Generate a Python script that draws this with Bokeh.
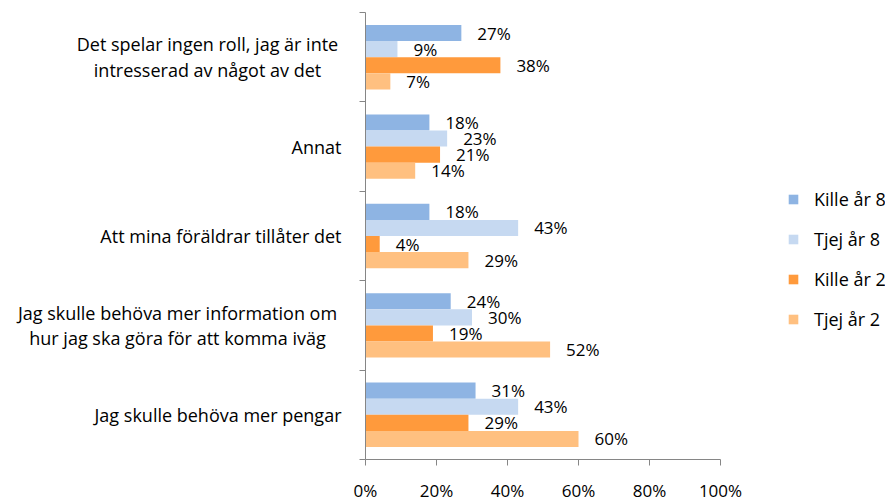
from bokeh.plotting import figure
from bokeh.layouts import row
from bokeh.models import (ColumnDataSource, Range1d, FixedTicker, PrintfTickFormatter,
                          Legend, LegendItem)
from bokeh.core.properties import value
from bokeh.embed import file_html
from bokeh.resources import INLINE

categories = [
    "Det spelar ingen roll, jag är inte\nintresserad av något av det",
    "Annat",
    "Att mina föräldrar tillåter det",
    "Jag skulle behöva mer information om\nhur jag ska göra för att komma iväg",
    "Jag skulle behöva mer pengar",
]
series_names = ["Kille år 8", "Tjej år 8", "Kille år 2", "Tjej år 2"]
kille_ar8 = [27, 18, 18, 24, 31]
tjej_ar8 = [9, 23, 43, 30, 43]
kille_ar2 = [38, 21, 4, 19, 29]
tjej_ar2 = [7, 14, 29, 52, 60]
x_ticks = [0, 20, 40, 60, 80, 100]

series_values = [kille_ar8, tjej_ar8, kille_ar2, tjej_ar2]
colors = ["#8EB4E3", "#C6D9F1", "#FF9A3C", "#FFC080"]

FONT = "Open Sans"
FS = "17px"
FS_CAT = "18px"
n = len(categories)
bar_h = 0.18
H = 504
TOP, BOTTOM = 12, 44

y_range = Range1d(0, n)
centers = [n - 0.5 - i for i in range(n)]


def bare(fig):
    fig.outline_line_color = None
    fig.xgrid.visible = False
    fig.ygrid.visible = False


# ---- left: category labels ----
LW = 353
p_left = figure(width=LW, height=H, x_range=Range1d(0, LW), y_range=y_range,
                output_backend="svg", toolbar_location=None, x_axis_type=None, y_axis_type=None,
                min_border_left=0, min_border_right=0, min_border_top=TOP, min_border_bottom=BOTTOM)
bare(p_left)
label_x = [207, 341, 341, 177, 341]          # anchor (px) of each label
label_align = ["center", "right", "right", "center", "right"]
lsrc = ColumnDataSource(dict(x=label_x, y=centers, t=categories, a=label_align))
p_left.text(x="x", y="y", text="t", source=lsrc, text_align="a",
            text_baseline="middle", text_line_height=1.06,
            text_font=value(FONT), text_font_size=FS_CAT, text_color="#000000")

# ---- main chart ----
p = figure(width=12 + 355 + 30, height=H, x_range=Range1d(0, 100), y_range=y_range,
           output_backend="svg", toolbar_location=None,
           min_border_left=12, min_border_right=30, min_border_top=TOP, min_border_bottom=BOTTOM)
bare(p)

sources = []
for j, (name, vals, col) in enumerate(zip(series_names, series_values, colors)):
    ys = [c + (1.5 - j) * bar_h for c in centers]
    src = ColumnDataSource(dict(y=ys, v=vals, lbl=[f"{v}%" for v in vals]))
    sources.append(src)
    p.hbar(y="y", left=0, right="v", height=bar_h, source=src,
           fill_color=col, line_color=None)
    p.text(x="v", y="y", text="lbl", source=src, x_offset=16,
           text_align="left", text_baseline="middle",
           text_font=value(FONT), text_font_size=FS, text_color="#000000")

axis_col = "#868686"
xa = p.xaxis[0]
xa.ticker = FixedTicker(ticks=x_ticks)
xa.formatter = PrintfTickFormatter(format="%d%%")
xa.axis_line_color = axis_col
xa.major_tick_line_color = axis_col
xa.major_tick_out = 6
xa.major_tick_in = 0
xa.minor_tick_line_color = None
xa.major_label_standoff = 13
xa.major_label_text_line_height = 0.8
xa.major_label_text_font = FONT
xa.major_label_text_font_size = FS
xa.major_label_text_color = "#000000"

ya = p.yaxis[0]
ya.ticker = FixedTicker(ticks=list(range(n + 1)))
ya.major_label_overrides = {i: "" for i in range(n + 1)}
ya.major_label_standoff = 0
ya.axis_line_color = axis_col
ya.major_tick_line_color = axis_col
ya.major_tick_out = 6
ya.major_tick_in = 0
ya.minor_tick_line_color = None

# ---- right: legend (bars share the series sources, drawn outside this panel's view) ----
RW = 885 - LW - (12 + 355 + 30)
p_leg = figure(width=RW, height=H, x_range=Range1d(-1000, -1000 + RW), y_range=Range1d(0, H),
               output_backend="svg", toolbar_location=None, x_axis_type=None, y_axis_type=None,
               min_border_left=0, min_border_right=0, min_border_top=0, min_border_bottom=0)
bare(p_leg)
items = []
for name, col, src in zip(series_names, colors, sources):
    r = p_leg.hbar(y="y", left=0, right="v", height=1, source=src,
                   fill_color=col, line_color=None)
    items.append(LegendItem(label=name, renderers=[r]))
legend = Legend(items=items, location=(37, 128), border_line_color=None,
                background_fill_alpha=0, glyph_width=12, glyph_height=12,
                label_standoff=15, spacing=16, padding=0, margin=0, label_height=20,
                label_text_font=FONT, label_text_font_size=FS_CAT, label_text_color="#000000")
p_leg.add_layout(legend)

layout = row(p_left, p, p_leg)
open("out.html", "w").write(file_html(layout, INLINE))
